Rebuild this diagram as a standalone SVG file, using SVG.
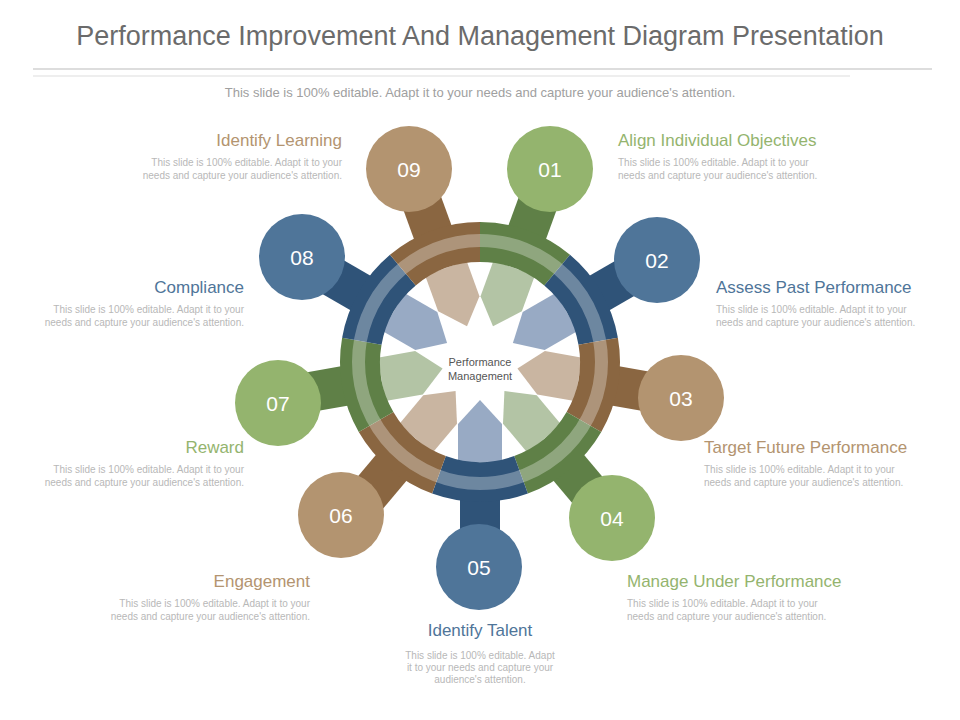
<svg xmlns="http://www.w3.org/2000/svg" width="960" height="720" viewBox="0 0 960 720">
<style>
.t{font-family:"Liberation Sans",Arial,sans-serif}
.h{font-size:17px}
.d{font-size:10px;fill:#b8b8b8}
.n{font-size:21px;fill:#fff;text-anchor:middle}
.gS{fill:#5f8047}.bS{fill:#2f5378}.rS{fill:#8a6641}
.gC{fill:#94b46e}.bC{fill:#4f7599}.rC{fill:#b39470}
.gP{fill:#b3c4a5}.bP{fill:#98aac4}.rP{fill:#c9b5a1}
.gT{fill:#94b46e}.bT{fill:#4f7599}.rT{fill:#b39470}
</style>
<defs>
<rect id="spoke" x="460" y="180" width="40" height="70"/>
<path id="seg" d="M432.12,230.44 A140,140 0 0 1 527.88,230.44 L514.20,268.03 A100,100 0 0 0 445.80,268.03 Z"/>
<path id="pet" d="M480,324 L458,300 L458,262 L502,262 L502,300 Z"/>
</defs>
<rect width="960" height="720" fill="#fff"/>
<text class="t" x="480" y="45" font-size="27" fill="#6b6b6b" text-anchor="middle">Performance Improvement And Management Diagram Presentation</text>
<line x1="33" y1="69" x2="932" y2="69" stroke="#bbb"/>
<line x1="33" y1="76" x2="850" y2="76" stroke="#ddd"/>
<text class="t" x="480" y="97" font-size="13" fill="#a0a0a0" text-anchor="middle">This slide is 100% editable. Adapt it to your needs and capture your audience's attention.</text>
<g id="connectors">
<use href="#spoke" class="gS" transform="rotate(20 480 362)"/>
<use href="#spoke" class="bS" transform="rotate(60 480 362)"/>
<use href="#spoke" class="rS" transform="rotate(100 480 362)"/>
<use href="#spoke" class="gS" transform="rotate(140 480 362)"/>
<use href="#spoke" class="bS" transform="rotate(180 480 362)"/>
<use href="#spoke" class="rS" transform="rotate(220 480 362)"/>
<use href="#spoke" class="gS" transform="rotate(260 480 362)"/>
<use href="#spoke" class="bS" transform="rotate(300 480 362)"/>
<use href="#spoke" class="rS" transform="rotate(340 480 362)"/>
</g>
<g id="hub">
<use href="#pet" class="gP" transform="rotate(20 480 362)"/>
<use href="#pet" class="bP" transform="rotate(60 480 362)"/>
<use href="#pet" class="rP" transform="rotate(100 480 362)"/>
<use href="#pet" class="gP" transform="rotate(140 480 362)"/>
<use href="#pet" class="bP" transform="rotate(180 480 362)"/>
<use href="#pet" class="rP" transform="rotate(220 480 362)"/>
<use href="#pet" class="gP" transform="rotate(260 480 362)"/>
<use href="#pet" class="bP" transform="rotate(300 480 362)"/>
<use href="#pet" class="rP" transform="rotate(340 480 362)"/>
<use href="#seg" class="gS" transform="rotate(20 480 362)"/>
<use href="#seg" class="bS" transform="rotate(60 480 362)"/>
<use href="#seg" class="rS" transform="rotate(100 480 362)"/>
<use href="#seg" class="gS" transform="rotate(140 480 362)"/>
<use href="#seg" class="bS" transform="rotate(180 480 362)"/>
<use href="#seg" class="rS" transform="rotate(220 480 362)"/>
<use href="#seg" class="gS" transform="rotate(260 480 362)"/>
<use href="#seg" class="bS" transform="rotate(300 480 362)"/>
<use href="#seg" class="rS" transform="rotate(340 480 362)"/>
<circle cx="480" cy="362" r="121.5" fill="none" stroke="#fff" stroke-opacity="0.3" stroke-width="13"/>
<text class="t" x="480" y="366" font-size="11" fill="#555" text-anchor="middle">Performance</text>
<text class="t" x="480" y="380" font-size="11" fill="#555" text-anchor="middle">Management</text>
</g>
<g id="n01"><circle cx="550" cy="169" r="43" class="gC"/><text class="t n" x="550" y="177">01</text>
<text class="t h gT" x="618" y="146">Align Individual Objectives</text>
<text class="t d" x="618" y="166">This slide is 100% editable. Adapt it to your</text><text class="t d" x="618" y="179">needs and capture your audience's attention.</text></g>
<g id="n02"><circle cx="657" cy="260" r="43" class="bC"/><text class="t n" x="657" y="268">02</text>
<text class="t h bT" x="716" y="293">Assess Past Performance</text>
<text class="t d" x="716" y="313">This slide is 100% editable. Adapt it to your</text><text class="t d" x="716" y="326">needs and capture your audience's attention.</text></g>
<g id="n03"><circle cx="681" cy="398" r="43" class="rC"/><text class="t n" x="681" y="406">03</text>
<text class="t h rT" x="704" y="453">Target Future Performance</text>
<text class="t d" x="704" y="473">This slide is 100% editable. Adapt it to your</text><text class="t d" x="704" y="486">needs and capture your audience's attention.</text></g>
<g id="n04"><circle cx="612" cy="518" r="43" class="gC"/><text class="t n" x="612" y="526">04</text>
<text class="t h gT" x="627" y="587">Manage Under Performance</text>
<text class="t d" x="627" y="607">This slide is 100% editable. Adapt it to your</text><text class="t d" x="627" y="620">needs and capture your audience's attention.</text></g>
<g id="n05"><circle cx="479" cy="567" r="43" class="bC"/><text class="t n" x="479" y="575">05</text>
<text class="t h bT" x="480" y="636" text-anchor="middle">Identify Talent</text>
<text class="t d" x="480" y="659" text-anchor="middle">This slide is 100% editable. Adapt</text><text class="t d" x="480" y="671" text-anchor="middle">it to your needs and capture your</text><text class="t d" x="480" y="683" text-anchor="middle">audience's attention.</text></g>
<g id="n06"><circle cx="341" cy="515" r="43" class="rC"/><text class="t n" x="341" y="523">06</text>
<text class="t h rT" x="310" y="587" text-anchor="end">Engagement</text>
<text class="t d" x="310" y="607" text-anchor="end">This slide is 100% editable. Adapt it to your</text><text class="t d" x="310" y="620" text-anchor="end">needs and capture your audience's attention.</text></g>
<g id="n07"><circle cx="278" cy="403" r="43" class="gC"/><text class="t n" x="278" y="411">07</text>
<text class="t h gT" x="244" y="453" text-anchor="end">Reward</text>
<text class="t d" x="244" y="473" text-anchor="end">This slide is 100% editable. Adapt it to your</text><text class="t d" x="244" y="486" text-anchor="end">needs and capture your audience's attention.</text></g>
<g id="n08"><circle cx="302" cy="257" r="43" class="bC"/><text class="t n" x="302" y="265">08</text>
<text class="t h bT" x="244" y="293" text-anchor="end">Compliance</text>
<text class="t d" x="244" y="313" text-anchor="end">This slide is 100% editable. Adapt it to your</text><text class="t d" x="244" y="326" text-anchor="end">needs and capture your audience's attention.</text></g>
<g id="n09"><circle cx="409" cy="169" r="43" class="rC"/><text class="t n" x="409" y="177">09</text>
<text class="t h rT" x="342" y="146" text-anchor="end">Identify Learning</text>
<text class="t d" x="342" y="166" text-anchor="end">This slide is 100% editable. Adapt it to your</text><text class="t d" x="342" y="179" text-anchor="end">needs and capture your audience's attention.</text></g>
</svg>
